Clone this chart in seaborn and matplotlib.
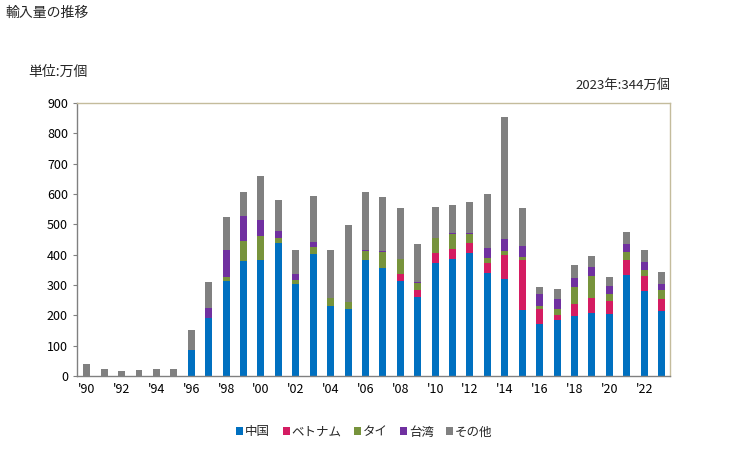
import numpy as np
import pandas as pd
import seaborn as sns
import matplotlib.pyplot as plt
from matplotlib.patches import Patch

years = list(range(1990, 2024))
china = [0, 0, 0, 0, 0, 0, 86, 191, 314, 380, 383, 439, 304, 403, 231, 221, 383, 356, 314, 259,
         371, 386, 406, 340, 320, 218, 172, 185, 198, 208, 205, 333, 281, 215]
vietnam = [0, 0, 0, 0, 0, 0, 0, 0, 0, 0, 0, 0, 0, 0, 0, 0, 0, 0, 23, 25,
           35, 33, 33, 33, 79, 165, 49, 16, 40, 49, 43, 50, 49, 39]
thai = [0, 0, 0, 0, 0, 0, 0, 0, 13, 66, 79, 16, 13, 23, 26, 24, 30, 53, 49, 23,
        49, 50, 30, 16, 14, 10, 10, 20, 56, 73, 23, 26, 20, 30]
taiwan = [0, 0, 0, 0, 0, 0, 0, 33, 89, 82, 53, 24, 20, 16, 0, 0, 3, 4, 0, 3,
          0, 3, 3, 33, 39, 36, 40, 33, 29, 30, 26, 27, 26, 20]
other = [40, 23, 17, 20, 23, 23, 66, 86, 109, 79, 145, 102, 79, 152, 159, 253, 191, 178, 168, 126,
         103, 92, 102, 179, 403, 125, 23, 33, 43, 36, 30, 39, 40, 40]

series = ['中国', 'ベトナム', 'タイ', '台湾', 'その他']
colors = ['#0070c0', '#d41c62', '#77933c', '#7030a0', '#808080']
tick_years = ["'%02d" % (y % 100) for y in years]

df = pd.DataFrame({'year': [str(y) for y in years], '中国': china, 'ベトナム': vietnam,
                   'タイ': thai, '台湾': taiwan, 'その他': other})

sns.set_style('white')
plt.rcParams['font.family'] = ['Noto Sans CJK JP', 'DejaVu Sans']

fig = plt.figure(figsize=(7.29, 4.5), dpi=100)
ax = fig.add_axes([0.1056, 0.1644, 0.8134, 0.6067])

# stacked bars: draw cumulative totals from the top layer down
cum = df[series].cumsum(axis=1)
for name, col in reversed(list(zip(series, colors))):
    sns.barplot(x=df['year'], y=cum[name], color=col, width=0.4, ax=ax,
                saturation=1, edgecolor='none', linewidth=0)

ax.set_xlim(-0.56, 33.48)
ax.set_ylim(0, 900)
ax.set_yticks(range(0, 901, 100))
ax.set_xticks(range(0, 34, 2))
ax.set_xticklabels(tick_years[::2])
ax.tick_params(axis='both', labelsize=9, colors='black', length=3, width=0.8, direction='out')
ax.tick_params(axis='y', left=True, color='#808080')
ax.tick_params(axis='x', bottom=False, pad=2)
ax.set_xlabel('')
ax.set_ylabel('')
for s in ['left', 'bottom']:
    ax.spines[s].set_color('#808080')
    ax.spines[s].set_linewidth(1)
for s in ['top', 'right']:
    ax.spines[s].set_color('#c4bc9c')
    ax.spines[s].set_linewidth(1)

fig.text(5 / 729, 1 - 13 / 450, '輸入量の推移', fontsize=10, va='center', ha='left')
fig.text(28 / 729, 1 - 72 / 450, '単位:万個', fontsize=10, va='center', ha='left')
fig.text(670 / 729, 1 - 85 / 450, '2023年:344万個', fontsize=9.5, va='center', ha='right')

handles = [Patch(facecolor=c, edgecolor='none', label=n) for n, c in zip(series, colors)]
fig.legend(handles=handles, loc='center', bbox_to_anchor=(0.5, 1 - 432 / 450), ncol=5,
           frameon=False, fontsize=9, handlelength=0.55, handleheight=0.55,
           handletextpad=0.15, columnspacing=1.0)

fig.savefig('out.png', dpi=100)
